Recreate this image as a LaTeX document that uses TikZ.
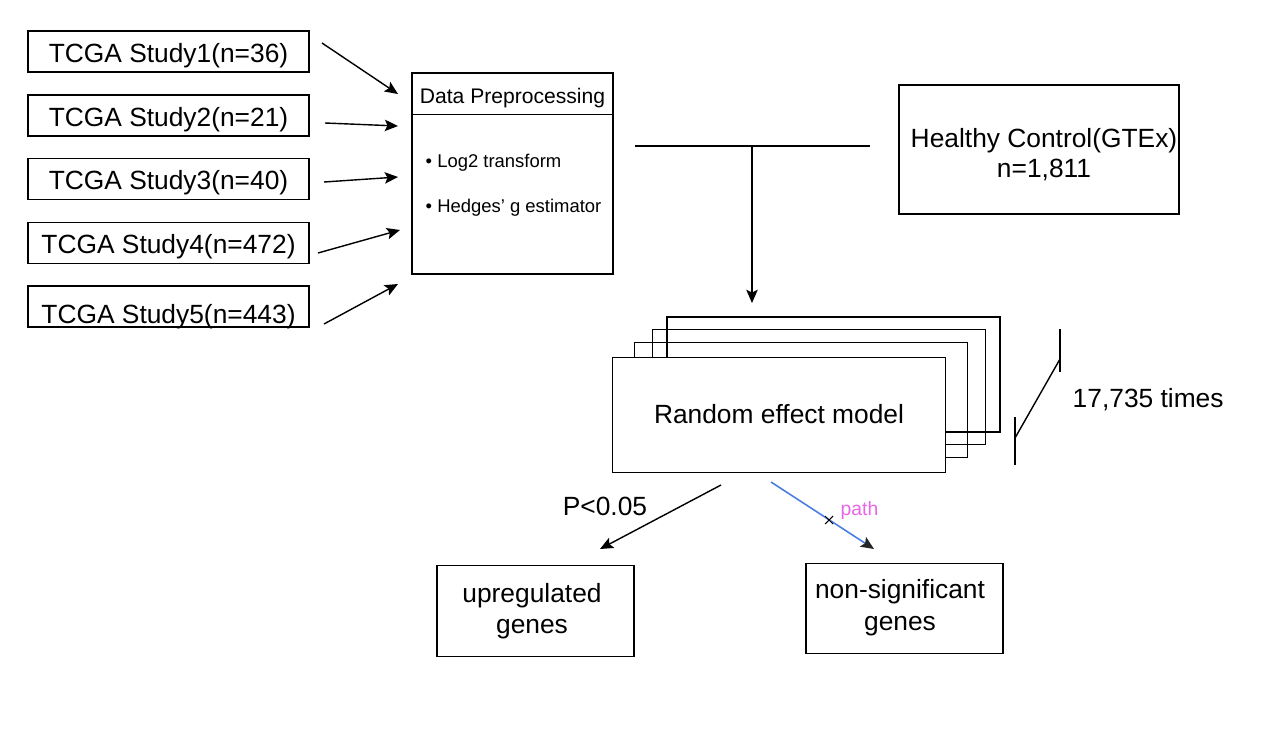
\documentclass[tikz,border=0pt]{standalone}
\usepackage{fontspec}
\setmainfont{Liberation Sans}
\usetikzlibrary{arrows.meta}
\definecolor{pathblue}{RGB}{74,125,226}
\definecolor{pathpink}{RGB}{232,102,232}
\begin{document}
\begin{tikzpicture}[x=0.02cm,y=-0.02cm,
  line width=0.8pt,
  box/.style={draw,fill=white,inner sep=0pt,line width=0.8pt},
  studybox/.style={box,minimum width=5.62cm,minimum height=0.82cm,font=\fontsize{15}{18}\selectfont,text depth=0pt},
  txt/.style={inner sep=0pt,anchor=base,font=\fontsize{15}{18}\selectfont},
  small/.style={inner sep=0pt,anchor=base west,font=\fontsize{10.5}{12}\selectfont},
  arr/.style={line width=0.8pt,-{Stealth[length=7.5pt,width=6.5pt,inset=1.5pt]}},
  stackbox/.style={draw,inner sep=0pt,line width=0.8pt,minimum width=6.66cm,minimum height=2.3cm},
  resbox/.style={box,minimum width=3.94cm,minimum height=1.81cm},
]
\useasboundingbox (0,0) rectangle (1274,734);

% study boxes
\node[studybox,text height=13pt] (s1) at (168.5,51.5) {TCGA Study1(n=36)};
\node[studybox,text height=12pt] (s2) at (168.5,115.5) {TCGA Study2(n=21)};
\node[studybox,text height=12pt] (s3) at (168.5,179) {TCGA Study3(n=40)};
\node[studybox,text height=12pt] (s4) at (168.5,243) {TCGA Study4(n=472)};
\node[studybox,text height=19.8pt] (s5) at (168.5,306.5) {TCGA Study5(n=443)};

% data preprocessing
\node[box,minimum width=4.02cm,minimum height=4.02cm] (dp) at (512.5,173.5) {};
\draw (dp.north west) ++(0,42) -- ++(201,0);
\node[txt,font=\fontsize{12}{14}\selectfont] (dph) at (512.5,103) {Data Preprocessing};
\node[small] (b1) at (425,167) {\textbullet\ Log2 transform};
\node[small] (b2) at (425,212) {\textbullet\ Hedges’ g estimator};

% arrows into preprocessing
\coordinate (a1s) at (322,43);  \coordinate (a1e) at (398,94);
\coordinate (a2s) at (325,123); \coordinate (a2e) at (398,126);
\coordinate (a3s) at (324,182); \coordinate (a3e) at (398,177);
\coordinate (a4s) at (318,253); \coordinate (a4e) at (400,230);
\coordinate (a5s) at (324,324); \coordinate (a5e) at (398,284);
\draw[arr] (a1s) -- (a1e);
\draw[arr] (a2s) -- (a2e);
\draw[arr] (a3s) -- (a3e);
\draw[arr] (a4s) -- (a4e);
\draw[arr] (a5s) -- (a5e);

% healthy control
\node[box,minimum width=5.6cm,minimum height=2.58cm] (hc) at (1039,149.5) {};
\node[txt] (hc1) at (1044,147) {Healthy Control(GTEx)};
\node[txt] (hc2) at (1044,177) {n=1,811};

% joining line
\coordinate (hl) at (635,146);
\coordinate (hr) at (870,146);
\coordinate (hj) at (752,146);
\coordinate (rtop) at (752,303);
\draw (hl) -- (hr);
\draw[arr] (hj) -- (rtop);

% stacked random effect boxes (back ones unfilled, lines cross)
\node[stackbox] (r4) at (833.5,374.5) {};
\node[stackbox] (r3) at (819,387) {};
\node[stackbox] (r2) at (801,400) {};
\node[stackbox,fill=white] (r1) at (779,415) {};
\node[txt] (rt) at (779,423) {Random effect model};

% repeat bracket
\coordinate (k1) at (1060,329); \coordinate (k2) at (1060,372);
\coordinate (k3) at (1060,359); \coordinate (k4) at (1015,438);
\coordinate (k5) at (1015,417); \coordinate (k6) at (1015,465);
\draw (k1) -- (k2);
\draw (k3) -- (k4);
\draw (k5) -- (k6);
\node[txt,anchor=base west] (times) at (1072,407) {17,735 times};

% result boxes
\node[resbox] (up) at (535.5,611) {};
\node[txt] (up1) at (532,602) {upregulated};
\node[txt] (up2) at (532,633) {genes};
\node[resbox] (ns) at (904.5,608.5) {};
\node[txt] (ns1) at (900,598) {non-significant};
\node[txt] (ns2) at (900,630) {genes};

% output arrows
\coordinate (o1s) at (721,485); \coordinate (o1e) at (600,549);
\coordinate (o2s) at (771,482); \coordinate (o2e) at (874,549);
\draw[arr] (o1s) -- (o1e);
\node[txt] (pv) at (605,515) {P<0.05};
\draw[line width=0.9pt,pathblue,-{Stealth[length=7.5pt,width=6.5pt,inset=1.5pt,color=black!85]}] (o2s) -- (o2e);
\coordinate (xm) at (829,520);
\draw[line width=0.6pt] (xm) ++(-4,-4) -- ++(8,8);
\draw[line width=0.6pt] (xm) ++(-4,4) -- ++(8,-8);
\node[inner sep=0pt,anchor=base west,font=\fontsize{11}{13}\selectfont,text=pathpink] (pl) at (840,515) {path};
\end{tikzpicture}
\end{document}
